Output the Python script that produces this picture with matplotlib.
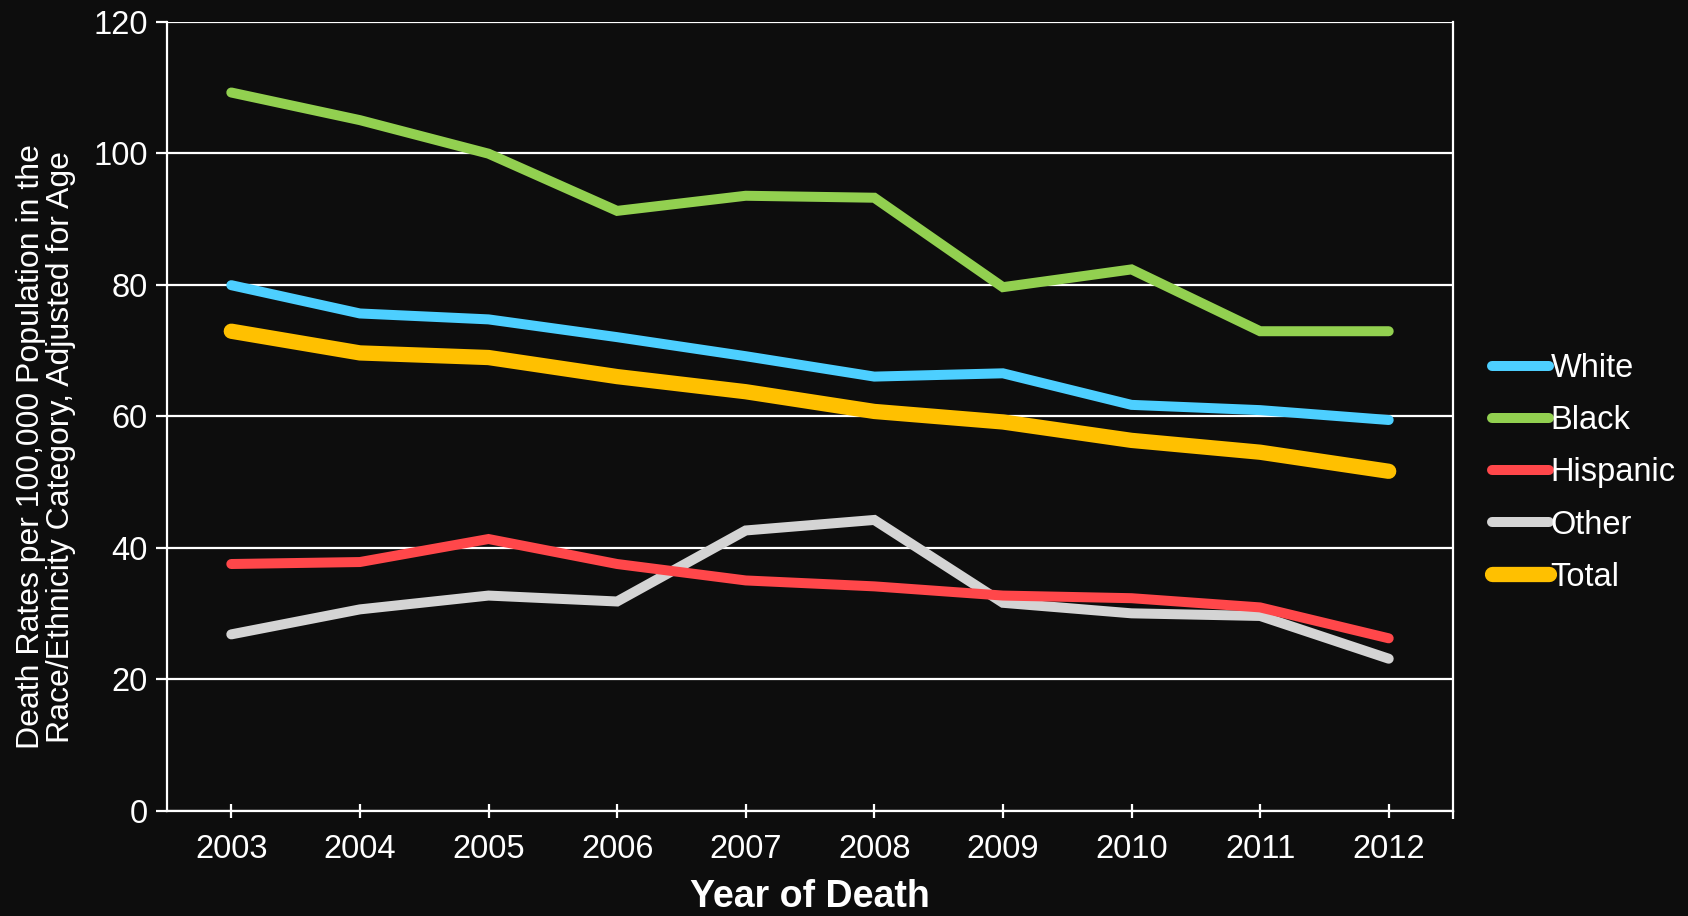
import numpy as np
import matplotlib
matplotlib.use("Agg")
import matplotlib.pyplot as plt

years = ["2003", "2004", "2005", "2006", "2007", "2008", "2009", "2010", "2011", "2012"]
white = [79.9, 75.6, 74.7, 72.0, 69.1, 66.0, 66.5, 61.7, 60.9, 59.4]
black = [109.2, 105.0, 99.9, 91.2, 93.5, 93.2, 79.6, 82.3, 72.9, 72.9]
hispanic = [37.5, 37.8, 41.3, 37.5, 35.0, 34.1, 32.7, 32.3, 30.9, 26.2]
other = [26.8, 30.6, 32.7, 31.8, 42.6, 44.2, 31.6, 30.0, 29.6, 23.1]
total = [72.9, 69.6, 68.9, 66.0, 63.7, 60.7, 59.1, 56.3, 54.5, 51.6]

names = ["White", "Black", "Hispanic", "Other", "Total"]
colors = ["#4DCFFF", "#92D050", "#FF474A", "#D4D4D4", "#FFC000"]
widths = [7.2, 7.2, 7.2, 7.2, 11]

plt.rcParams['font.family'] = ['Liberation Sans', 'DejaVu Sans']
bg = "#0D0D0D"

fig = plt.figure(figsize=(16.88, 9.16), dpi=100, facecolor=bg)
ax = fig.add_axes([167/1688, 1 - 810.6/916, (1453-167)/1688, (810.6-21.5)/916])
ax.set_facecolor(bg)

x = np.arange(len(years))
series = [white, black, hispanic, other, total]
# other/hispanic at the back, then total, white, black on top
order = [3, 2, 4, 0, 1]
lines = {}
for i in order:
    ln, = ax.plot(x, series[i], color=colors[i], lw=widths[i], label=names[i],
                  solid_capstyle='round', solid_joinstyle='miter', zorder=3 + order.index(i))
    lines[i] = ln

ax.set_xlim(-0.5, 9.5)
ax.set_ylim(0, 120)
ax.set_yticks(np.arange(0, 121, 20))
ax.set_xticks(x)
ax.set_xticklabels(years)
ax.set_xticks([9.5], minor=True)
ax.yaxis.grid(True, color="white", lw=1.6, zorder=1)
ax.set_axisbelow(True)

for s in ax.spines.values():
    s.set_color("white")
    s.set_linewidth(1.6)
ax.spines['top'].set_visible(False)

ax.tick_params(axis='y', colors='white', labelsize=23.5, length=8, width=1.6, pad=6)
ax.tick_params(axis='x', which='major', colors='white', labelsize=23.5, length=10,
               width=1.6, direction='inout', pad=12)
ax.tick_params(axis='x', which='minor', colors='white', length=6, width=1.6, direction='out')

fig.text((167+1453)/2/1688, 1 - 897/916, "Year of Death", color="white",
         fontsize=27, fontweight='bold', ha='center', va='center')
fig.text(46/1688, 1 - 447/916,
         "Death Rates per 100,000 Population in the\nRace/Ethnicity Category, Adjusted for Age",
         color="white", fontsize=23, rotation=90, ha='center', va='center',
         multialignment='center', linespacing=1.0)

handles = [lines[i] for i in range(5)]
leg = ax.legend(handles, names, loc='center left', bbox_to_anchor=(1.02, 0.428),
                frameon=False, fontsize=23.5, handlelength=1.75, handletextpad=0.05,
                labelspacing=0.65, borderaxespad=0)
for t in leg.get_texts():
    t.set_color("white")

fig.savefig("out.png", dpi=100, facecolor=bg)
